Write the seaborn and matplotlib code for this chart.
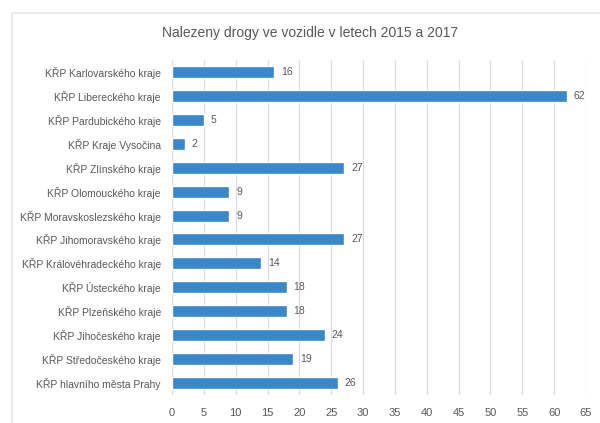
import matplotlib
matplotlib.use("Agg")
import matplotlib.pyplot as plt
import seaborn as sns
import pandas as pd
from matplotlib.patches import Rectangle

categories = [
    "KŘP Karlovarského kraje",
    "KŘP Libereckého kraje",
    "KŘP Pardubického kraje",
    "KŘP Kraje Vysočina",
    "KŘP Zlínského kraje",
    "KŘP Olomouckého kraje",
    "KŘP Moravskoslezského kraje",
    "KŘP Jihomoravského kraje",
    "KŘP Královéhradeckého kraje",
    "KŘP Ústeckého kraje",
    "KŘP Plzeňského kraje",
    "KŘP Jihočeského kraje",
    "KŘP Středočeského kraje",
    "KŘP hlavního města Prahy",
]
values = [16, 62, 5, 2, 27, 9, 9, 27, 14, 18, 18, 24, 19, 26]
x_ticks = list(range(0, 70, 5))
title = "Nalezeny drogy ve vozidle v letech 2015 a 2017"

sns.set_style("white")
plt.rcParams["font.family"] = ["Liberation Sans", "DejaVu Sans"]

df = pd.DataFrame({"kraj": categories, "pocet": values})

fig = plt.figure(figsize=(6, 4.23), dpi=100)
fig.patches.append(Rectangle((12 / 600, -0.01), 1, 1.01 - 13 / 423, transform=fig.transFigure,
                             fill=False, edgecolor="#e8e8e8", linewidth=1.2, zorder=0))
ax = fig.add_axes([172 / 600, 1 - 395 / 423, (586 - 172) / 600, (395 - 60) / 423])

sns.barplot(data=df, y="kraj", x="pocet", orient="h", color="#3a87cc",
            saturation=1, width=0.5, ax=ax)

ax.set_xlim(0, 65)
ax.set_ylim(13.5, -0.5)
ax.set_xticks(x_ticks)
ax.set_xticklabels([str(t) for t in x_ticks])
ax.xaxis.grid(True, color="#dcdcdc", linewidth=0.9)
ax.set_axisbelow(True)
for s in ax.spines.values():
    s.set_visible(False)
ax.tick_params(axis="both", length=0, labelcolor="#595959")
ax.tick_params(axis="x", pad=9, labelsize=8)
ax.tick_params(axis="y", pad=8, labelsize=7.5)
ax.set_xlabel("")
ax.set_ylabel("")

for i, v in enumerate(values):
    ax.text(v + 1.1, i, str(v), va="center", ha="left", fontsize=7.5, color="#595959")

fig.text(310 / 600, 1 - 33 / 423, title, ha="center", va="center",
         fontsize=10, color="#595959")

fig.savefig("out.png", dpi=100, facecolor="white")
